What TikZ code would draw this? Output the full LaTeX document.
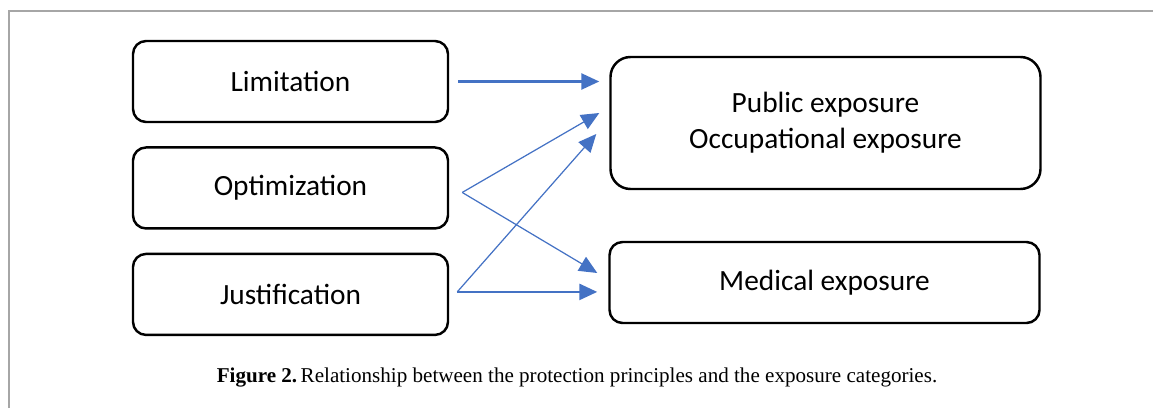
\documentclass[tikz,border=0pt]{standalone}
\usepackage{fontspec}
\setmainfont{Carlito}
\newfontfamily\captionfont{Liberation Serif}
\usetikzlibrary{positioning, calc, arrows.meta}
\definecolor{linkblue}{HTML}{4472C4}
\definecolor{framegray}{HTML}{A6A6A6}
\tikzset{
	principle/.style={draw, line width=1.4pt, rounded corners=0.26cm, minimum width=6.3cm, minimum height=1.62cm, align=center, font=\fontsize{16.7}{20.5}\selectfont},
	category/.style={principle, minimum width=8.6cm},
	link/.style={draw=linkblue, line width=1.5pt, -{Triangle[length=0.36cm, width=0.32cm]}},
	thinlink/.style={link, line width=0.7pt},
}

\begin{document}
\begin{tikzpicture}
			\useasboundingbox (0,0) rectangle (23.06,8.16);
			\draw[framegray, line width=0.6pt] (0.18,0) -- (0.18,7.94) -- (23.06,7.94);

			\node[principle] (lim) at (5.81,6.53) {Limitation};
			\node[principle, below=0.46cm of lim] (opt) {Optimization};
			\node[principle, below=0.46cm of opt] (jus) {Justification};

			\node[category, minimum height=2.64cm, rounded corners=0.4cm] (pub) at (16.51,5.70) {Public exposure\\Occupational exposure};
			\node[category] (med) at (16.49,2.51) {Medical exposure};

			\coordinate (opt-out) at ($(opt.east)+(0.26,-0.09)$);
			\coordinate (jus-out) at ($(jus.east)+(0.16,0.05)$);
			\coordinate (pub-in1) at ($(pub.west)+(-0.2,0.2)$);
			\coordinate (pub-in2) at ($(pub.west)+(-0.26,-0.22)$);
			\coordinate (med-in1) at ($(med.west)+(-0.22,0.19)$);
			\coordinate (med-in2) at (med.west |- jus-out);

			\draw[link, shorten <=0.18cm, shorten >=0.2cm] (lim.east) -- (lim.east -| pub.west);
			\draw[thinlink] (opt-out) -- (pub-in1);
			\draw[thinlink] (opt-out) -- (med-in1);
			\draw[thinlink] (jus-out) -- (pub-in2);
			\draw[link, shorten >=0.22cm] (jus-out) -- (med-in2);

			\node[font=\captionfont\fontsize{12}{14}\selectfont] (cap) at (11.54,0.6) {\textbf{Figure 2.}\,Relationship between the protection principles and the exposure categories.};
		\end{tikzpicture}
\end{document}
